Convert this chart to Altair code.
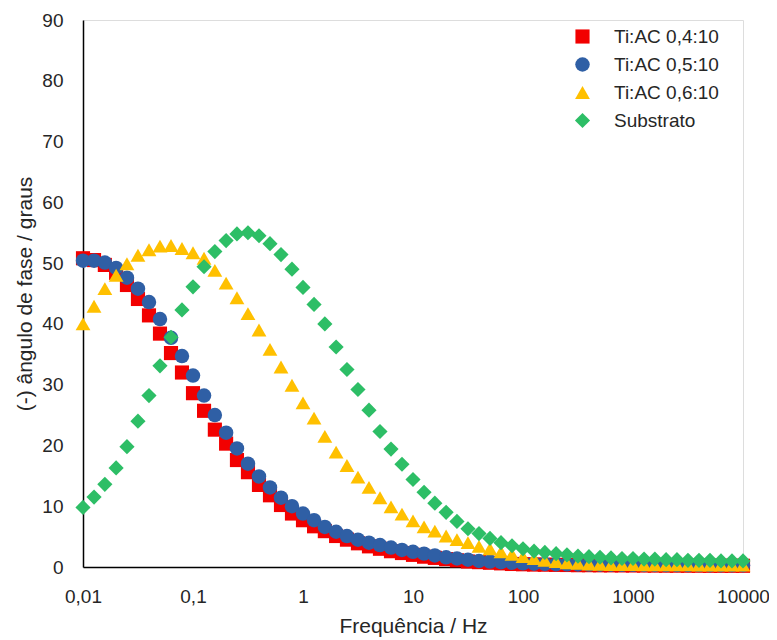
import altair as alt
import pandas as pd

freq = [0.01, 0.0126, 0.0158, 0.02, 0.0251, 0.0316, 0.0398, 0.0501, 0.0631, 0.0794,
        0.1, 0.126, 0.158, 0.2, 0.251, 0.316, 0.398, 0.501, 0.631, 0.794,
        1, 1.26, 1.58, 2, 2.51, 3.16, 3.98, 5.01, 6.31, 7.94,
        10, 12.6, 15.8, 20, 25.1, 31.6, 39.8, 50.1, 63.1, 79.4,
        100, 126, 158, 200, 251, 316, 398, 501, 631, 794,
        1000, 1260, 1580, 2000, 2510, 3160, 3980, 5010, 6310, 7940,
        10000]

ti04 = [50.8, 50.5, 49.7, 48.4, 46.4, 44.1, 41.4, 38.4, 35.2, 32.0,
        28.6, 25.7, 22.6, 20.3, 17.6, 15.6, 13.5, 11.8, 10.2, 8.8,
        7.7, 6.7, 5.9, 5.1, 4.5, 3.9, 3.4, 3.0, 2.6, 2.3,
        2.0, 1.7, 1.5, 1.3, 1.1, 0.9, 0.8, 0.7, 0.6, 0.5,
        0.45, 0.4, 0.38, 0.35, 0.33, 0.3, 0.3, 0.28, 0.27, 0.26,
        0.25, 0.24, 0.23, 0.22, 0.22, 0.21, 0.21, 0.2, 0.2, 0.2,
        0.2]

ti05 = [50.4, 50.4, 50.1, 49.2, 47.6, 45.8, 43.6, 40.8, 37.7, 34.7,
        31.5, 28.2, 25.0, 22.1, 19.5, 17.0, 14.9, 13.1, 11.4, 10.0,
        8.8, 7.7, 6.6, 5.8, 5.1, 4.5, 4.0, 3.6, 3.2, 2.8,
        2.5, 2.2, 1.9, 1.6, 1.4, 1.2, 1.0, 0.9, 0.8, 0.7,
        0.6, 0.55, 0.5, 0.47, 0.44, 0.42, 0.4, 0.38, 0.37, 0.36,
        0.35, 0.34, 0.33, 0.32, 0.32, 0.31, 0.31, 0.3, 0.3, 0.3,
        0.3]

ti06 = [40.0, 42.9, 45.8, 48.0, 49.9, 51.3, 52.2, 52.8, 52.9, 52.4,
        51.7, 50.8, 48.8, 46.7, 44.3, 41.7, 39.0, 35.8, 32.9, 29.9,
        27.0, 24.5, 21.5, 18.9, 16.7, 14.8, 13.1, 11.4, 9.9, 8.7,
        7.6, 6.6, 5.9, 5.1, 4.5, 4.0, 3.4, 3.0, 2.5, 2.1,
        1.7, 1.4, 1.1, 0.9, 0.7, 0.6, 0.5, 0.45, 0.4, 0.4,
        0.38, 0.37, 0.36, 0.35, 0.35, 0.34, 0.33, 0.33, 0.32, 0.32,
        0.32]

substrato = [9.8, 11.5, 13.6, 16.3, 19.8, 24.0, 28.2, 33.1, 37.8, 42.3,
             46.1, 49.4, 51.9, 53.7, 54.8, 55.0, 54.5, 53.2, 51.4, 49.0,
             46.0, 43.2, 40.0, 36.2, 32.5, 29.2, 25.8, 22.3, 19.4, 16.9,
             14.4, 12.3, 10.5, 9.0, 7.5, 6.3, 5.5, 4.7, 4.0, 3.5,
             3.0, 2.6, 2.4, 2.2, 2.0, 1.8, 1.7, 1.6, 1.5, 1.4,
             1.4, 1.3, 1.3, 1.2, 1.2, 1.1, 1.1, 1.1, 1.0, 1.0,
             1.0]

series_names = ["Ti:AC 0,4:10", "Ti:AC 0,5:10", "Ti:AC 0,6:10", "Substrato"]
series_values = [ti04, ti05, ti06, substrato]
colors = ["#F20000", "#2F5FA5", "#FFC000", "#2DBE66"]
shapes = ["square", "circle", "triangle-up", "diamond"]
sizes = [200, 230, 280, 300]
x_ticks = [0.01, 0.1, 1, 10, 100, 1000, 10000]
y_ticks = [0, 10, 20, 30, 40, 50, 60, 70, 80, 90]

rows = []
for order, (name, vals) in enumerate(zip(series_names, series_values)):
    for f, v in zip(freq, vals):
        rows.append({"serie": name, "freq": f, "fase": v, "ordem": order})
df = pd.DataFrame(rows)

font = "Liberation Sans"
txt = "#262626"

chart = alt.Chart(df).mark_point(filled=True, opacity=1, strokeWidth=0).encode(
    x=alt.X("freq:Q",
            scale=alt.Scale(type="log", domain=[0.01, 10000], nice=False),
            axis=alt.Axis(title="Frequência / Hz", values=x_ticks,
                          labelExpr="replace(toString(datum.value), '.', ',')",
                          grid=False, ticks=False, domainColor="#000000", domainWidth=1.5,
                          labelFontSize=19, titleFontSize=21, labelColor=txt, titleColor=txt,
                          labelFont=font, titleFont=font, titleFontWeight="normal",
                          labelPadding=20, titlePadding=9, labelFlush=False)),
    y=alt.Y("fase:Q",
            scale=alt.Scale(domain=[0, 90], nice=False),
            axis=alt.Axis(title="(-) ângulo de fase / graus", values=y_ticks,
                          grid=False, ticks=False, domainColor="#000000", domainWidth=1.5,
                          labelFontSize=19, titleFontSize=21, labelColor=txt, titleColor=txt,
                          labelFont=font, titleFont=font, titleFontWeight="normal",
                          labelPadding=20, titlePadding=6)),
    color=alt.Color("serie:N", scale=alt.Scale(domain=series_names, range=colors),
                    legend=alt.Legend(title=None, orient="none", legendX=490, legendY=7,
                                      labelFontSize=19, labelFont=font, labelColor=txt,
                                      symbolSize=200, rowPadding=8, labelOffset=22,
                                      symbolStrokeWidth=0, padding=0)),
    shape=alt.Shape("serie:N", scale=alt.Scale(domain=series_names, range=shapes), legend=None),
    size=alt.Size("serie:N", scale=alt.Scale(domain=series_names, range=sizes), legend=None),
    order=alt.Order("ordem:Q"),
).properties(
    width=660, height=547,
    padding={"left": 75, "top": 12, "right": 26, "bottom": 71},
    autosize=alt.AutoSizeParams(type="none"),
).configure_view(stroke="#000000", strokeWidth=1.5).configure(background="#ffffff")

chart.save("out.html", embed_options={"renderer": "svg", "actions": False})
